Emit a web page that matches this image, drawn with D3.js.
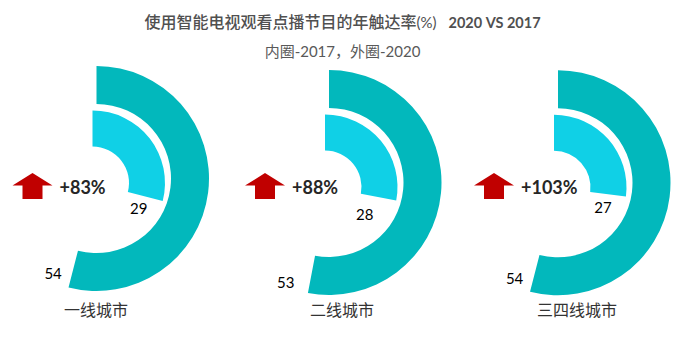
<!DOCTYPE html>
<html>
<head>
<meta charset="utf-8">
<script src="https://cdn.jsdelivr.net/npm/d3@7/dist/d3.min.js"></script>
<style>
  body { margin: 0; background: #fff; }
  svg { display: block; }
</style>
</head>
<body>
<svg id="chart"></svg>
<script>
// reach of TV on-demand viewing by city tier, in percent
const cities = ['一线城市', '二线城市', '三四线城市'];
const reach2020 = [54, 53, 54];
const reach2017 = [29, 28, 27];
const growthPct = [83, 88, 103];

const width = 685, height = 339;
const font = "Lato, 'Noto Sans CJK SC', sans-serif";

// panel centres (outer ring); the inner ring sits a little down-left of it
const panelX = [96.5, 329, 558];
const panelY = [178.5, 182.5, 182.8];
const innerShift = [-4, 4.5];
const cityLabelX = [96, 342, 577];
// per panel nudges for the value labels [innerDx, innerDy, outerDx, outerDy]
const labelNudge = [[0, 0, 0, 0], [-8, 5, -6, 2], [0, 0, 0, 0]];

const rings = {
  outer: {inner: 74.5, outer: 112.5, color: '#02b8bc'},
  inner: {inner: 36.5, outer: 72.5, color: '#10d0e6'}
};

const angle = d3.scaleLinear().domain([0, 100]).range([0, 2 * Math.PI]);

const svg = d3.select('#chart')
    .attr('width', width)
    .attr('height', height)
    .style('font-family', font);

// title
const title = svg.append('text')
    .attr('x', width / 2)
    .attr('y', 28)
    .attr('text-anchor', 'middle')
    .attr('fill', '#505050')
    .style('font-size', '16px');
title.append('tspan').style('font-weight', 500).text('使用智能电视观看点播节目的年触达率');
title.append('tspan').style('font-size', '15px').text('(%)');
title.append('tspan').attr('dx', 12).style('font-size', '14.5px').style('font-weight', 700).text('2020 VS 2017');

svg.append('text')
    .attr('x', width / 2)
    .attr('y', 57)
    .attr('text-anchor', 'middle')
    .attr('fill', '#595959')
    .style('font-size', '15px')
    .text('内圈-2017，外圈-2020');

const arcOuter = d3.arc()
    .innerRadius(rings.outer.inner)
    .outerRadius(rings.outer.outer)
    .startAngle(0);

const arcInner = d3.arc()
    .innerRadius(rings.inner.inner)
    .outerRadius(rings.inner.outer)
    .startAngle(0);

// point on a circle, angle measured clockwise from 12 o'clock
const polar = (a, r) => [r * Math.sin(a), -r * Math.cos(a)];

const arrowPath = 'M0,0 L20,12.5 L10,12.5 L10,26 L-10,26 L-10,12.5 L-20,12.5 Z';

cities.forEach((city, i) => {
  const cx = panelX[i], cy = panelY[i];
  const ix = cx + innerShift[0], iy = cy + innerShift[1];
  const nudge = labelNudge[i];

  svg.append('path')
      .attr('transform', `translate(${cx},${cy})`)
      .attr('d', arcOuter.endAngle(angle(reach2020[i])))
      .attr('fill', rings.outer.color);

  svg.append('path')
      .attr('transform', `translate(${ix},${iy})`)
      .attr('d', arcInner.endAngle(angle(reach2017[i])))
      .attr('fill', rings.inner.color);

  // value labels just past the end of each ring
  const pIn = polar(angle(reach2017[i]) + 15 * Math.PI / 180, 53);
  svg.append('text')
      .attr('x', ix + pIn[0] + nudge[0])
      .attr('y', iy + pIn[1] + nudge[1])
      .attr('dy', '0.35em')
      .attr('text-anchor', 'middle')
      .attr('fill', '#000')
      .style('font-size', '15px')
      .text(reach2017[i]);

  const pOut = polar(angle(reach2020[i]) + 10 * Math.PI / 180, 105);
  svg.append('text')
      .attr('x', cx + pOut[0] + nudge[2])
      .attr('y', cy + pOut[1] + nudge[3])
      .attr('dy', '0.35em')
      .attr('text-anchor', 'middle')
      .attr('fill', '#000')
      .style('font-size', '15px')
      .text(reach2020[i]);

  // growth arrow and percentage
  svg.append('path')
      .attr('transform', `translate(${cx - 64},173)`)
      .attr('d', arrowPath)
      .attr('fill', '#c00000');

  svg.append('text')
      .attr('x', cx - 37)
      .attr('y', 194)
      .attr('fill', '#262626')
      .style('font-size', '18px')
      .style('font-weight', 700)
      .text(`+${growthPct[i]}%`);

  svg.append('text')
      .attr('x', cityLabelX[i])
      .attr('y', 316)
      .attr('text-anchor', 'middle')
      .attr('fill', '#333')
      .style('font-size', '16px')
      .text(city);
});
</script>
</body>
</html>
